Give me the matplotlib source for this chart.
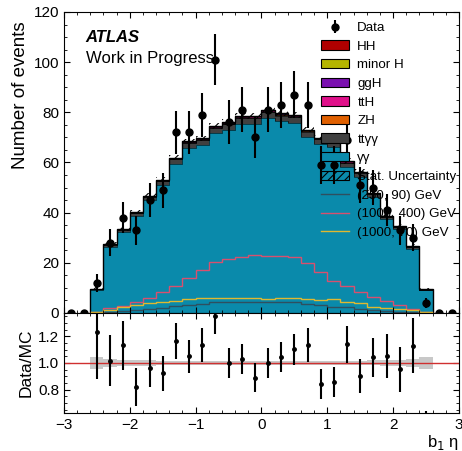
import numpy as np
import matplotlib
matplotlib.use("Agg")
import matplotlib.pyplot as plt
from matplotlib.patches import Patch
from matplotlib.lines import Line2D
from matplotlib.ticker import MultipleLocator

plt.rcParams['font.family'] = ['Liberation Sans', 'DejaVu Sans']
plt.rcParams['hatch.linewidth'] = 0.8

# ---- binning (30 bins of 0.2 from -3 to 3; MC non-zero between -2.6 and 2.6)
edges = np.round(np.arange(-3.0, 3.0001, 0.2), 2)
centers = (edges[:-1] + edges[1:]) / 2

# ---- data counts (30 bins)
data = [0, 0, 12, 28, 38, 33, 45, 49, 72, 72, 79, 101, 76, 81, 70,
        81, 83, 87, 83, 59, 59, 69, 51, 50, 41, 33, 30, 4, 0, 0]

# ---- background / MC components for the 26 bins from -2.6 to 2.6
yy = [9.3, 26.4, 32.2, 38.5, 45.0, 51.0, 59.5, 65.8, 66.9, 71.6, 73.0, 75.4, 75.5,
      77.7, 76.4, 75.8, 70.2, 67.2, 66.2, 58.2, 54.2, 46.2, 37.3, 33.3, 25.6, 9.1]
ttyy = [0.3, 0.8, 1.0, 1.2, 1.3, 1.5, 1.7, 1.9, 2.0, 2.1, 2.2, 2.3, 2.3,
        2.4, 2.3, 2.3, 2.1, 2.0, 1.9, 1.7, 1.6, 1.3, 1.1, 1.0, 0.7, 0.2]
zh = [0.01, 0.02, 0.03, 0.03, 0.04, 0.04, 0.05, 0.05, 0.05, 0.06, 0.06, 0.06, 0.06,
      0.06, 0.06, 0.06, 0.06, 0.05, 0.05, 0.05, 0.04, 0.04, 0.03, 0.03, 0.02, 0.01]
tth = [0.05, 0.12, 0.15, 0.18, 0.2, 0.23, 0.27, 0.3, 0.3, 0.32, 0.33, 0.34, 0.34,
       0.35, 0.34, 0.34, 0.32, 0.3, 0.3, 0.27, 0.24, 0.2, 0.17, 0.15, 0.12, 0.05]
ggh = [0.03, 0.08, 0.1, 0.12, 0.14, 0.16, 0.18, 0.2, 0.2, 0.22, 0.22, 0.23, 0.23,
       0.24, 0.23, 0.23, 0.22, 0.2, 0.2, 0.18, 0.16, 0.14, 0.12, 0.1, 0.08, 0.03]
minorh = [0.01, 0.03, 0.04, 0.05, 0.05, 0.06, 0.07, 0.08, 0.08, 0.08, 0.09, 0.09, 0.09,
          0.09, 0.09, 0.09, 0.08, 0.08, 0.08, 0.07, 0.06, 0.05, 0.05, 0.04, 0.03, 0.01]
hh = [0.02, 0.05, 0.06, 0.07, 0.08, 0.1, 0.11, 0.12, 0.13, 0.13, 0.14, 0.14, 0.14,
      0.15, 0.14, 0.14, 0.13, 0.13, 0.12, 0.11, 0.1, 0.08, 0.07, 0.06, 0.05, 0.02]
mc_err = [0.45, 0.8, 0.8, 0.85, 0.9, 0.95, 1.05, 1.1, 1.1, 1.15, 1.15, 1.2, 1.2,
          1.2, 1.2, 1.2, 1.15, 1.1, 1.1, 1.05, 1.0, 0.9, 0.85, 0.8, 0.75, 0.45]

# ---- signal shapes (26 bins)
sig_250_90 = [0.1, 0.5, 0.8, 1.2, 1.5, 1.9, 2.7, 3.0, 3.5, 4.3, 4.5, 4.5, 4.5,
              4.5, 4.5, 4.3, 3.6, 3.2, 2.3, 2.3, 1.5, 1.2, 0.9, 0.5, 0.2, 0.1]
sig_1000_400 = [0.4, 1.9, 2.8, 4.5, 5.8, 8.2, 10.8, 13.8, 17.1, 20.2, 21.4, 22.5, 23.0,
                22.7, 22.7, 22.2, 19.8, 16.5, 12.8, 10.9, 8.5, 6.5, 4.8, 3.2, 1.6, 0.4]
sig_1000_70 = [0.5, 1.2, 2.3, 3.2, 3.9, 4.3, 4.8, 5.6, 6.1, 6.1, 5.8, 5.8, 5.8,
               5.6, 5.8, 6.1, 5.5, 5.2, 5.4, 4.3, 3.9, 2.3, 1.9, 1.5, 1.0, 0.3]

mc_edges = edges[2:-2]

labels = ['HH', 'minor H', 'ggH', 'ttH', 'ZH', 'ttγγ', 'γγ']
colors = ['#b00000', '#b5b500', '#7a10b0', '#e0108a', '#e06000', '#404040', '#0a8aab']

fig = plt.figure(figsize=(4.62, 4.51), dpi=100)
ax1 = fig.add_axes([0.1385, 0.306, 0.855, 0.6674])
ax2 = fig.add_axes([0.1385, 0.0843, 0.855, 0.2217], sharex=ax1)

# stack: bottom to top
layers = [(yy, colors[6]), (ttyy, colors[5]), (zh, colors[4]), (tth, colors[3]),
          (ggh, colors[2]), (minorh, colors[1]), (hh, colors[0])]
base = np.zeros(len(yy))
tops = []
for vals, col in layers:
    top = base + np.array(vals)
    ax1.stairs(top, mc_edges, baseline=base.copy(), fill=True, facecolor=col,
               edgecolor='none')
    tops.append(top)
    base = top
total = base
for top in tops[:-1]:
    ax1.stairs(top, mc_edges, baseline=None, color='black', lw=0.4)
ax1.stairs(total, mc_edges, baseline=0, color='black', lw=1.0)

err = np.array(mc_err)
ax1.stairs(total + err, mc_edges, baseline=total - err, fill=True, facecolor='none',
           edgecolor='black', hatch='////', lw=0)

# signals
ax1.stairs(sig_250_90, mc_edges, color='#2f4f5f', lw=1.0)
ax1.stairs(sig_1000_400, mc_edges, color='#d8506e', lw=1.0)
ax1.stairs(sig_1000_70, mc_edges, color='#e0b830', lw=1.0)

# data
d = np.array(data, dtype=float)
eb = ax1.errorbar(centers, d, yerr=np.sqrt(d), fmt='o', color='black', ms=5,
                  elinewidth=1.5, capsize=0)

ax1.set_xlim(-3, 3)
ax1.set_ylim(0, 120)
ax1.set_ylabel('Number of events', fontsize=13.5, loc='top')
ax1.yaxis.set_label_coords(-0.088, 0.97)
ax1.text(0.055, 0.9, 'ATLAS', transform=ax1.transAxes, fontsize=12,
         fontweight='bold', fontstyle='italic')
ax1.text(0.055, 0.83, 'Work in Progress', transform=ax1.transAxes, fontsize=12)

for ax in (ax1, ax2):
    ax.tick_params(which='both', direction='in', top=True, right=True, labelsize=11)
    ax.tick_params(which='major', length=4.5)
    ax.tick_params(which='minor', length=2.5)
    ax.xaxis.set_major_locator(MultipleLocator(1))
    ax.xaxis.set_minor_locator(MultipleLocator(0.2))
ax1.yaxis.set_major_locator(MultipleLocator(20))
ax1.yaxis.set_minor_locator(MultipleLocator(5))
plt.setp(ax1.get_xticklabels(), visible=False)

# legend
handles = [eb] + [Patch(facecolor=c, edgecolor='black', lw=0.8) for c in colors] + \
    [Patch(facecolor='none', edgecolor='black', hatch='////', lw=0.8),
     Line2D([], [], color='#2f4f5f', lw=1.0),
     Line2D([], [], color='#d8506e', lw=1.0),
     Line2D([], [], color='#e0b830', lw=1.0)]
leg_labels = ['Data'] + labels + ['Stat. Uncertainty', '(250, 90) GeV',
                                  '(1000, 400) GeV', '(1000, 70) GeV']
ax1.legend(handles, leg_labels, loc='upper left', bbox_to_anchor=(0.638, 0.985),
           frameon=False, fontsize=9.6, labelspacing=0.47, handlelength=2.1,
           handletextpad=0.6, borderaxespad=0)

# ratio
mc_full = np.zeros(len(d))
mc_full[2:-2] = total
mask = mc_full > 0
ratio = np.where(mask, d / np.where(mask, mc_full, 1), np.nan)
ratio_err = np.where(mask, np.sqrt(d) / np.where(mask, mc_full, 1), np.nan)
rel = err / total
ax2.stairs(1 + rel, mc_edges, baseline=1 - rel, fill=True, color='#c8c8c8', lw=0)
ax2.axhline(1.0, color='#d03030', lw=1.0)
ax2.errorbar(centers[mask], ratio[mask], yerr=ratio_err[mask], fmt='o', color='black',
             ms=2.5, elinewidth=1.5, capsize=0)
ax2.set_ylim(0.625, 1.375)
ax2.yaxis.set_major_locator(MultipleLocator(0.2))
ax2.yaxis.set_minor_locator(MultipleLocator(0.05))
ax2.set_ylabel('Data/MC', fontsize=12.5)
ax2.yaxis.set_label_coords(-0.078, 0.5)
ax2.set_xlabel('b$_1$ η', fontsize=12, loc='right')
ax2.xaxis.set_label_coords(1.0, -0.2)

fig.savefig('out.png', dpi=100)
